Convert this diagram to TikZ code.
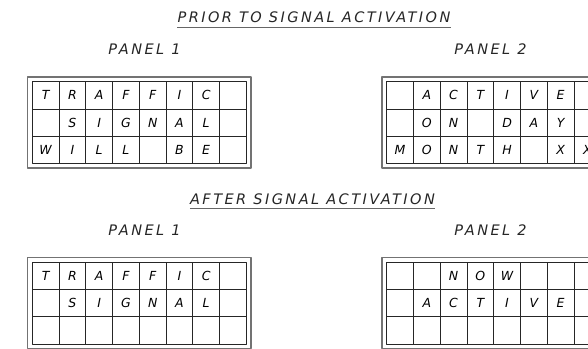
\documentclass[tikz,border=0pt]{standalone}
\usepackage{fontspec}
\setmainfont{DejaVu Sans}
\newfontfamily\cadfont{DejaVu Sans}
\newfontfamily\headfont{DejaVu Sans}[LetterSpace=17]
\usetikzlibrary{fit}

\tikzset{
  cell/.style={draw=black!85, line width=0.8pt, minimum width=26.75pt, minimum height=27.2pt,
    inner sep=0pt, font=\cadfont\itshape\fontsize{12.5}{12.5}\selectfont},
  frame/.style={draw=black!55, line width=1.4pt, inner sep=4.3pt},
  heading/.style={font=\headfont\itshape\fontsize{14.5}{14.5}\selectfont, inner sep=0pt, text=black!85},
  uline/.style={draw=black!60, line width=1.1pt},
}

% one sign panel: name, left, top, rows of letters
\newcommand\signpanel[4]{%
  \foreach \row [count=\r] in {#4} {
    \foreach \ch [count=\c] in \row
      \node[cell] (#1-\r-\c) at ({#2+(\c-0.5)*26.75},{#3+(\r-0.5)*27.2}) {\ch};
  }
  \node[frame, fit=(#1-1-1)(#1-3-8)] (#1-frame) {};
}

\begin{document}
\begin{tikzpicture}[x=1pt, y=-1pt, line join=round]
  \useasboundingbox (0,0) rectangle (588,348);
  \clip (0,0) rectangle (588,348);

  % prior to activation
  \node[heading] (prior) at (314,17.5) {PRIOR TO SIGNAL ACTIVATION};
  \draw[uline] ([yshift=-4pt]prior.south west) -- ([yshift=-4pt]prior.south east);
  \node[heading] (prior-p1) at (144.5,49) {PANEL 1};
  \node[heading] (prior-p2) at (490.5,49) {PANEL 2};
  \signpanel{pa}{32.3}{81.7}{{T,R,A,F,F,I,C,{}},{{},S,I,G,N,A,L,{}},{W,I,L,L,{},B,E,{}}}
  \signpanel{pb}{386.7}{81.7}{{{},A,C,T,I,V,E,{}},{{},O,N,{},D,A,Y,{}},{M,O,N,T,H,{},X,X}}

  % after activation
  \node[heading] (after) at (312.5,199) {AFTER SIGNAL ACTIVATION};
  \draw[uline] ([yshift=-4pt]after.south west) -- ([yshift=-4pt]after.south east);
  \node[heading] (after-p1) at (144.5,230) {PANEL 1};
  \node[heading] (after-p2) at (490.5,230) {PANEL 2};
  \signpanel{pc}{32.3}{262.3}{{T,R,A,F,F,I,C,{}},{{},S,I,G,N,A,L,{}},{{},{},{},{},{},{},{},{}}}
  \signpanel{pd}{386.7}{262.3}{{{},{},N,O,W,{},{},{}},{{},A,C,T,I,V,E,{}},{{},{},{},{},{},{},{},{}}}
\end{tikzpicture}
\end{document}
